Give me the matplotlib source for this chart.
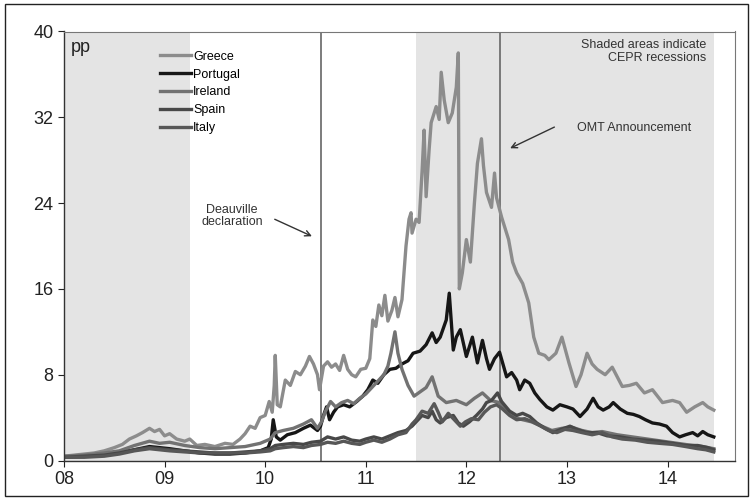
import matplotlib
matplotlib.use("Agg")
import matplotlib.pyplot as plt
from matplotlib.patches import Rectangle

plt.rcParams['font.family'] = ['Liberation Sans', 'DejaVu Sans']

# decimal years (8.0 = Jan 2008), spread in percentage points
greece_x = [8.00, 8.10, 8.20, 8.30, 8.40, 8.50, 8.58, 8.65, 8.72, 8.78, 8.85, 8.90, 8.95, 9.00, 9.05,
            9.12, 9.20, 9.25, 9.32, 9.40, 9.50, 9.60, 9.68, 9.75, 9.80, 9.85, 9.90, 9.95, 10.00, 10.04,
            10.07, 10.09, 10.10, 10.12, 10.15, 10.20, 10.25, 10.30, 10.35, 10.40, 10.44, 10.48, 10.52,
            10.54, 10.58, 10.62, 10.66, 10.70, 10.74, 10.78, 10.82, 10.86, 10.90, 10.95, 11.00, 11.04,
            11.07, 11.10, 11.13, 11.16, 11.19, 11.22, 11.26, 11.29, 11.32, 11.36, 11.40, 11.43, 11.45,
            11.46, 11.50, 11.53, 11.56, 11.58, 11.60, 11.63, 11.65, 11.70, 11.73, 11.75, 11.78, 11.82,
            11.86, 11.90, 11.92, 11.93, 11.96, 12.00, 12.04, 12.08, 12.11, 12.15, 12.17, 12.20, 12.25,
            12.28, 12.30, 12.35, 12.42, 12.46, 12.50, 12.56, 12.62, 12.67, 12.72, 12.78, 12.82, 12.89,
            12.95, 13.02, 13.09, 13.14, 13.20, 13.25, 13.30, 13.38, 13.45, 13.50, 13.55, 13.62, 13.69,
            13.77, 13.85, 13.95, 14.05, 14.12, 14.19, 14.27, 14.35, 14.40, 14.46]
greece_y = [0.4, 0.5, 0.6, 0.7, 0.9, 1.2, 1.5, 2.0, 2.3, 2.6, 3.0, 2.7, 2.9, 2.3, 2.5,
            2.0, 1.8, 2.0, 1.4, 1.5, 1.3, 1.6, 1.5, 2.0, 2.5, 3.2, 3.0, 4.0, 4.2, 5.5,
            4.5, 7.0, 9.8, 5.2, 5.0, 7.5, 7.0, 8.3, 8.0, 8.8, 9.7, 9.0, 8.0,
            6.6, 8.8, 9.2, 8.7, 9.0, 8.4, 9.8, 8.5, 8.0, 7.8, 8.5, 8.6, 9.5,
            13.1, 12.5, 14.5, 13.5, 15.4, 13.0, 14.0, 15.2, 13.4, 15.0, 20.0, 22.5, 23.1,
            21.2, 22.5, 22.2, 27.0, 30.8, 24.6, 29.0, 31.5, 33.0, 31.8, 36.2, 33.6, 31.5,
            32.4, 34.8, 38.0, 16.0, 17.5, 20.6, 18.5, 24.0, 27.7, 30.0, 27.5, 25.0, 23.6,
            26.8, 24.5, 22.7, 20.6, 18.5, 17.5, 16.5, 14.7, 11.5, 10.0, 9.8, 9.4, 10.0,
            11.5, 9.1, 6.9, 8.0, 10.0, 9.0, 8.5, 8.0, 8.7, 7.8, 6.9, 7.0, 7.2,
            6.3, 6.6, 5.4, 5.6, 5.4, 4.5, 5.0, 5.4, 5.0, 4.7]

portugal_x = [8.00, 8.20, 8.40, 8.55, 8.70, 8.85, 8.95, 9.05, 9.20, 9.35, 9.50, 9.65, 9.80, 9.95,
              10.03, 10.06, 10.08, 10.11, 10.15, 10.22, 10.30, 10.38, 10.45, 10.52, 10.55, 10.58,
              10.61, 10.64, 10.68, 10.72, 10.78, 10.84, 10.91, 10.97, 11.02, 11.07, 11.12, 11.18,
              11.24, 11.30, 11.36, 11.42, 11.47, 11.54, 11.60, 11.66, 11.70, 11.74, 11.80, 11.83,
              11.87, 11.90, 11.94, 12.00, 12.06, 12.11, 12.16, 12.20, 12.23, 12.28, 12.33, 12.40,
              12.45, 12.50, 12.53, 12.58, 12.63, 12.68, 12.73, 12.80, 12.86, 12.93, 13.00, 13.06,
              13.13, 13.20, 13.26, 13.31, 13.36, 13.42, 13.46, 13.53, 13.60, 13.66, 13.72, 13.78,
              13.85, 13.92, 13.99, 14.05, 14.12, 14.18, 14.25, 14.30, 14.35, 14.40, 14.46]
portugal_y = [0.3, 0.4, 0.5, 0.7, 1.0, 1.3, 1.2, 1.1, 0.9, 0.7, 0.6, 0.6, 0.7, 0.9,
              1.2, 2.0, 3.8, 2.2, 1.9, 2.4, 2.6, 3.0, 3.3, 2.8, 3.2, 4.2,
              5.0, 3.8, 4.5, 5.0, 5.2, 5.0, 5.5, 6.0, 6.6, 7.5, 7.2, 8.0,
              8.5, 8.6, 9.0, 9.3, 10.0, 10.2, 10.8, 11.9, 11.0, 11.5, 13.1, 15.6,
              10.3, 11.5, 12.2, 9.7, 11.5, 9.1, 11.2, 9.5, 8.5, 9.5, 10.1, 7.8,
              8.2, 7.5, 6.6, 7.5, 7.2, 6.3, 5.7, 5.0, 4.7, 5.2, 5.0, 4.8,
              4.1, 4.8, 5.8, 5.0, 4.7, 5.0, 5.4, 4.8, 4.4, 4.3, 4.1, 3.8,
              3.5, 3.4, 3.2, 2.6, 2.2, 2.4, 2.6, 2.3, 2.7, 2.4, 2.2]

ireland_x = [8.00, 8.20, 8.40, 8.55, 8.70, 8.85, 8.95, 9.05, 9.20, 9.35, 9.50, 9.65, 9.80, 9.95,
             10.05, 10.10, 10.18, 10.28, 10.38, 10.46, 10.52, 10.56, 10.60, 10.65, 10.70, 10.76,
             10.82, 10.88, 10.94, 11.00, 11.06, 11.12, 11.18, 11.22, 11.25, 11.29, 11.32, 11.36,
             11.42, 11.48, 11.54, 11.60, 11.66, 11.72, 11.80, 11.90, 12.00, 12.08, 12.16, 12.24,
             12.33, 12.40, 12.48, 12.56, 12.65, 12.75, 12.85, 12.95, 13.05, 13.15, 13.25, 13.35,
             13.50, 13.65, 13.80, 13.95, 14.10, 14.25, 14.35, 14.46]
ireland_y = [0.4, 0.5, 0.7, 0.9, 1.4, 1.8, 1.6, 1.7, 1.4, 1.2, 1.1, 1.2, 1.3, 1.6,
             2.0, 2.6, 2.8, 3.0, 3.4, 3.8, 3.0, 3.6, 4.6, 5.5, 5.0, 5.4,
             5.6, 5.3, 5.8, 6.2, 6.8, 7.4, 8.0, 8.8, 10.0, 12.0, 10.0, 8.5,
             7.0, 6.0, 6.4, 6.8, 7.8, 6.0, 5.4, 5.6, 5.2, 5.8, 6.3, 5.6,
             5.4, 4.6, 4.0, 3.8, 3.6, 3.2, 2.8, 3.0, 3.1, 2.8, 2.6, 2.7,
             2.4, 2.2, 2.0, 1.8, 1.6, 1.4, 1.3, 1.1]

spain_x = [8.00, 8.20, 8.40, 8.55, 8.70, 8.85, 8.95, 9.05, 9.20, 9.35, 9.50, 9.65, 9.80, 9.95,
           10.05, 10.10, 10.18, 10.28, 10.38, 10.46, 10.55, 10.62, 10.70, 10.78, 10.86, 10.94,
           11.00, 11.08, 11.16, 11.24, 11.32, 11.40, 11.46, 11.50, 11.56, 11.62, 11.66, 11.70,
           11.74, 11.80, 11.87, 11.92, 11.97, 12.03, 12.10, 12.16, 12.20, 12.25, 12.31, 12.35,
           12.43, 12.50, 12.56, 12.63, 12.70, 12.78, 12.86, 12.94, 13.03, 13.10, 13.20, 13.30,
           13.40, 13.53, 13.65, 13.78, 13.90, 14.05, 14.19, 14.30, 14.40, 14.46]
spain_y = [0.3, 0.4, 0.5, 0.7, 1.0, 1.2, 1.1, 1.0, 0.9, 0.8, 0.7, 0.7, 0.8, 0.9,
           1.1, 1.4, 1.5, 1.6, 1.5, 1.7, 1.8, 2.2, 2.0, 2.2, 1.9, 1.8,
           2.0, 2.2, 2.0, 2.3, 2.6, 2.8, 3.2, 3.6, 4.2, 4.0, 4.6, 3.8,
           3.5, 4.0, 4.2, 3.5, 3.2, 3.6, 4.2, 4.8, 5.4, 5.6, 6.3, 5.5,
           4.6, 4.2, 4.4, 4.1, 3.5, 3.0, 2.6, 2.9, 3.2, 2.9, 2.6, 2.6,
           2.3, 2.2, 2.0, 1.9, 1.8, 1.6, 1.4, 1.4, 1.2, 1.0]

italy_x = [8.00, 8.20, 8.40, 8.55, 8.70, 8.85, 8.95, 9.05, 9.20, 9.35, 9.50, 9.65, 9.80, 9.95,
           10.05, 10.10, 10.18, 10.28, 10.38, 10.46, 10.55, 10.62, 10.70, 10.78, 10.86, 10.94,
           11.00, 11.08, 11.16, 11.24, 11.32, 11.40, 11.46, 11.50, 11.56, 11.62, 11.68, 11.72,
           11.76, 11.82, 11.88, 11.94, 11.99, 12.05, 12.12, 12.18, 12.24, 12.30, 12.36, 12.43,
           12.50, 12.58, 12.66, 12.74, 12.82, 12.90, 12.98, 13.06, 13.15, 13.25, 13.35, 13.45,
           13.55, 13.68, 13.80, 13.92, 14.05, 14.18, 14.30, 14.38, 14.46]
italy_y = [0.3, 0.3, 0.4, 0.6, 0.9, 1.1, 1.0, 0.9, 0.8, 0.7, 0.7, 0.7, 0.7, 0.8,
           0.9, 1.1, 1.2, 1.3, 1.2, 1.4, 1.5, 1.7, 1.6, 1.8, 1.6, 1.5,
           1.7, 1.9, 1.7, 2.0, 2.4, 2.6, 3.4, 3.8, 4.6, 4.4, 5.3, 4.5,
           3.6, 4.4, 3.8, 3.2, 3.6, 3.9, 3.8, 4.5, 5.0, 5.2, 4.8, 4.2,
           3.8, 3.9, 3.6, 3.2, 2.8, 2.6, 2.9, 2.8, 2.6, 2.4, 2.6, 2.2,
           2.0, 1.9, 1.7, 1.6, 1.5, 1.3, 1.1, 1.0, 0.8]

recessions = [(8.0, 9.25), (11.5, 14.46)]
deauville = 10.55
omt = 12.33
year_ticks = [8, 9, 10, 11, 12, 13, 14]
year_labels = ['08', '09', '10', '11', '12', '13', '14']

fig = plt.figure(figsize=(7.53, 5.0), dpi=100)
ax = fig.add_axes([0.085, 0.079, 0.891, 0.858])

# outer frame round the whole chart
fig.patches.append(Rectangle((0.007, 0.008), 0.986, 0.984, transform=fig.transFigure,
                             fill=False, edgecolor='#222222', linewidth=1.0))

for start, end in recessions:
    ax.axvspan(start, end, color='#e4e4e4', lw=0, zorder=0)

ax.axvline(deauville, color='#666666', lw=1.2, zorder=1)
ax.axvline(omt, color='#666666', lw=1.2, zorder=1)

series = [
    ('Greece', greece_x, greece_y, '#8c8c8c'),
    ('Portugal', portugal_x, portugal_y, '#161616'),
    ('Ireland', ireland_x, ireland_y, '#727272'),
    ('Spain', spain_x, spain_y, '#484848'),
    ('Italy', italy_x, italy_y, '#575757'),
]
for name, xs, ys, col in series:
    ax.plot(xs, ys, color=col, lw=2.4, label=name, zorder=2, solid_joinstyle='round')

ax.set_xlim(8, 14.67)
ax.set_ylim(0, 40)
ax.set_xticks(year_ticks)
ax.set_xticklabels(year_labels)
ax.set_yticks([0, 8, 16, 24, 32, 40])
ax.tick_params(labelsize=13, colors='#222222', length=4, direction='out')

for side in ['left', 'bottom']:
    ax.spines[side].set_color('#333333')
    ax.spines[side].set_linewidth(1.0)
for side in ['top', 'right']:
    ax.spines[side].set_color('#777777')
    ax.spines[side].set_linewidth(0.8)

ax.text(8.07, 39.3, 'pp', fontsize=13, ha='left', va='top', color='#222222')

ax.legend(loc='upper left', bbox_to_anchor=(0.135, 0.967), frameon=False, fontsize=9,
          handlelength=2.5, handletextpad=0.2, labelspacing=0.47, borderaxespad=0)

ax.text(14.38, 39.3, 'Shaded areas indicate\nCEPR recessions', fontsize=9,
        ha='right', va='top', color='#333333', linespacing=1.1)
ax.text(13.67, 31.0, 'OMT Announcement', fontsize=9, ha='center', va='center', color='#333333')
ax.annotate('', xy=(12.41, 29.0), xytext=(12.9, 31.2),
            arrowprops=dict(arrowstyle='->', color='#333333', lw=1.0))
ax.text(9.67, 22.8, 'Deauville\ndeclaration', fontsize=9, ha='center', va='center',
        color='#333333', linespacing=1.1)
ax.annotate('', xy=(10.49, 20.8), xytext=(10.07, 22.6),
            arrowprops=dict(arrowstyle='->', color='#333333', lw=1.0))

fig.savefig('out.png', dpi=100)
